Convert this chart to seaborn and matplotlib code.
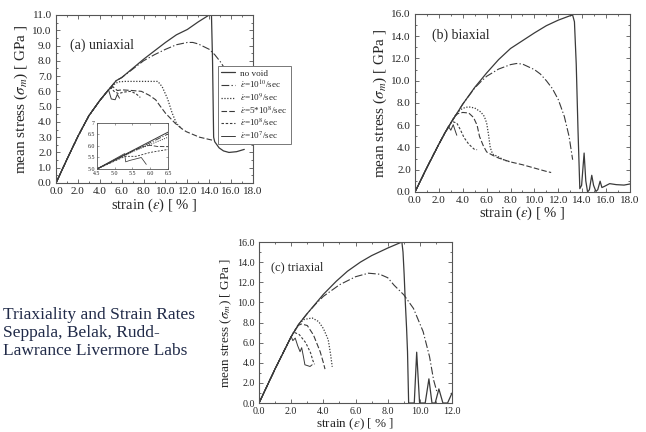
import numpy as np
import pandas as pd
import matplotlib
matplotlib.use("Agg")
import matplotlib.pyplot as plt
import seaborn as sns
from matplotlib.ticker import FormatStrFormatter, MultipleLocator, AutoMinorLocator

# ---- panel (a) uniaxial: shared loading branch, then each rate's own path
a_load_x = [0, 1, 2, 3, 4, 4.8]
a_load_y = [0, 1.55, 3.05, 4.4, 5.4, 6.1]
a_novoid_x = [5.5, 6, 7, 8, 9, 10, 11, 12, 12.4, 13, 14, 14.2, 14.3, 14.4, 14.5, 14.9, 15.3, 15.8, 16.5, 17.2]
a_novoid_y = [6.7, 6.9, 7.5, 8.1, 8.65, 9.2, 9.7, 10.05, 10.25, 10.55, 11.0, 11.05, 8.0, 3.0, 2.7, 2.3, 2.1, 2.0, 2.05, 2.2]
a_e10_x = [5.5, 6, 7, 8, 9, 10, 11, 12, 12.5, 13, 14, 14.5, 15, 15.5, 16]
a_e10_y = [6.7, 6.9, 7.45, 8.0, 8.4, 8.75, 9.05, 9.2, 9.2, 9.1, 8.75, 8.4, 7.95, 7.4, 6.7]
a_e9_x = [5.3, 5.7, 6.3, 9.3, 9.7, 10.2, 10.6, 11.0, 11.5]
a_e9_y = [6.45, 6.62, 6.65, 6.65, 6.3, 5.5, 4.6, 3.9, 3.55]
a_e5x8_x = [5.2, 5.6, 6, 7, 7.8, 8.5, 9.1, 9.5, 10, 10.5, 10.9, 11.5, 11.9, 13.1, 14.3]
a_e5x8_y = [6.3, 6.05, 6.1, 6.05, 6.0, 5.75, 5.45, 5.05, 4.57, 4.2, 3.9, 3.55, 3.36, 3.0, 2.8]
a_e8_x = [5.0, 5.3, 5.7, 6.2, 6.8, 7.3, 7.7]
a_e8_y = [6.25, 6.0, 5.85, 5.95, 6.0, 5.85, 5.6]
a_e7_x = [5.05, 5.4, 5.6, 5.8]
a_e7_y = [5.5, 5.45, 5.8, 5.55]

# inset of (a): zoomed view 4.5-6.5 %
in_novoid_x = [4.5, 6.5]
in_novoid_y = [5.0, 6.6]
in_e10_x = [4.5, 6.5]
in_e10_y = [5.0, 6.52]
in_e9_x = [4.5, 5.5, 6.5]
in_e9_y = [5.0, 5.75, 6.38]
in_e5x8_x = [4.5, 5.5, 5.8, 6.0, 6.2, 6.5]
in_e5x8_y = [5.0, 5.78, 5.98, 6.03, 5.98, 5.97]
in_e8_x = [4.5, 5.3, 5.6, 6.0, 6.5]
in_e8_y = [5.0, 5.55, 5.55, 5.72, 5.85]
in_e7_x = [4.5, 5.28, 5.31, 5.42, 5.75, 5.89]
in_e7_y = [5.0, 5.67, 5.31, 5.37, 5.5, 5.2]

# ---- panel (b) biaxial
b_load_x = [0, 0.5, 1, 1.5, 2, 2.5]
b_load_y = [0, 1.1, 2.2, 3.25, 4.3, 5.3]
b_novoid_x = [3, 3.5, 4, 5, 6, 7, 8, 9, 10, 11, 12, 13, 13.2, 13.35, 13.5, 13.65, 13.8, 13.95, 14.16, 14.3, 14.45,
              14.6, 14.8, 14.95, 15.15, 15.3, 15.5, 15.65, 15.85, 16.3, 16.85, 17.5, 18]
b_novoid_y = [6.2, 7.05, 7.9, 9.4, 10.7, 11.9, 12.9, 13.6, 14.3, 14.95, 15.45, 15.85, 15.9, 15.3, 11.5, 5.5, 0.3, 0.6, 3.5, 1.0, 0.0,
              0.2, 1.5, 0.6, 0.05, 0.2, 0.97, 0.4, 0.5, 0.75, 0.66, 0.62, 0.72]
b_e10_x = [3, 3.5, 4, 5, 5.5, 6, 7, 8, 8.5, 9, 10, 10.5, 11, 11.5, 12, 12.5, 12.9, 13.2]
b_e10_y = [6.2, 7.05, 7.9, 9.35, 9.9, 10.4, 11.05, 11.45, 11.55, 11.5, 11.0, 10.6, 10.0, 9.3, 8.3, 6.8, 5.0, 2.9]
b_e9_x = [3, 3.5, 3.8, 4.2, 4.5, 5.0, 5.5, 5.8, 6.0, 6.15, 6.3, 6.5, 7.0, 7.5, 8.0]
b_e9_y = [6.2, 7.05, 7.4, 7.6, 7.65, 7.55, 7.2, 6.8, 6.2, 5.2, 4.0, 3.4, 3.15, 2.85, 2.7]
b_e5x8_x = [3, 3.3, 3.6, 4.0, 4.5, 4.9, 5.2, 5.4, 5.7, 6.0, 6.5, 7, 8, 9, 10, 11, 11.4]
b_e5x8_y = [6.2, 6.8, 7.05, 7.15, 7.1, 6.7, 6.0, 5.0, 4.2, 3.6, 3.3, 3.05, 2.7, 2.45, 2.15, 1.85, 1.75]
b_e8_x = [3, 3.2, 3.5, 3.8, 4.1, 4.5, 4.95, 5.2]
b_e8_y = [6.2, 6.3, 6.2, 5.6, 4.9, 4.3, 3.85, 3.8]
b_e7_x = [2.8, 3.0, 3.2, 3.4, 3.5]
b_e7_y = [5.9, 5.55, 6.05, 5.4, 5.1]

# ---- panel (c) triaxial
c_load_x = [0, 0.5, 1, 1.5, 2]
c_load_y = [0, 1.7, 3.4, 5.0, 6.6]
c_novoid_x = [2.5, 3, 3.5, 4, 4.8, 5.5, 6.3, 7, 8, 8.88, 8.95, 9.02, 9.09, 9.17, 9.23, 9.3, 9.65, 9.8, 9.98,
              10.33, 10.56, 10.75, 10.95, 11.18, 11.43, 11.72, 12.0]
c_novoid_y = [7.9, 8.9, 9.85, 10.8, 12.1, 13.1, 14.0, 14.65, 15.4, 16.0, 15.0, 12.8, 10.1, 7.5, 5.1, 0.0, 0.0, 5.05, 0.0,
              0.0, 2.4, 0.0, 0.0, 1.4, 0.0, 0.0, 1.0]
c_e10_x = [2.5, 3, 3.5, 4, 5, 6, 6.8, 7.5, 8, 8.4, 9, 9.6, 10.2, 10.6, 10.85, 11.05]
c_e10_y = [7.9, 8.9, 9.8, 10.6, 11.75, 12.55, 12.9, 12.8, 12.45, 11.7, 10.75, 9.4, 7.1, 4.6, 2.3, 1.15]
c_e9_x = [2.5, 2.8, 3.3, 3.7, 4.0, 4.3, 4.45, 4.55]
c_e9_y = [7.9, 8.3, 8.45, 8.1, 7.4, 6.3, 4.8, 3.6]
c_e5x8_x = [2.4, 2.65, 3.0, 3.38, 3.8, 4.0, 4.1]
c_e5x8_y = [7.7, 7.85, 7.7, 6.77, 5.1, 4.0, 3.37]
c_e8_x = [2.15, 2.5, 2.9, 3.2, 3.35, 3.45]
c_e8_y = [7.05, 6.8, 6.0, 5.0, 4.2, 3.85]
c_e7_x = [2.1, 2.25, 2.4, 2.55, 2.65, 2.76, 2.85, 3.17, 3.3]
c_e7_y = [6.2, 6.45, 5.7, 5.1, 5.5, 4.6, 3.8, 3.63, 3.8]

labels = ["no void",
          r"$\dot{\varepsilon}$=10$^{10}$/sec",
          r"$\dot{\varepsilon}$=10$^{9}$/sec",
          r"$\dot{\varepsilon}$=5*10$^{8}$/sec",
          r"$\dot{\varepsilon}$=10$^{8}$/sec",
          r"$\dot{\varepsilon}$=10$^{7}$/sec"]
styles = ["-", (0, (7, 2, 1.2, 2)), (0, (1, 1.3)), (0, (5, 2)), (0, (2.2, 1.6)), "-"]
widths = [0.9, 0.8, 0.9, 0.8, 0.8, 0.7]
line_color = "#3a3a3a"

sns.set_style("ticks", {"xtick.direction": "in", "ytick.direction": "in"})
plt.rcParams["font.family"] = ["Liberation Serif", "DejaVu Serif"]
plt.rcParams["mathtext.fontset"] = "stix"
plt.rcParams["axes.edgecolor"] = "#555555"
plt.rcParams["axes.linewidth"] = 0.8

fig = plt.figure(figsize=(6.46, 4.32), dpi=100)


def draw(ax, load_x, load_y, branches, with_labels=False):
    for i, (bx, by) in enumerate(branches):
        xs = list(load_x) + list(bx)
        ys = list(load_y) + list(by)
        df = pd.DataFrame({"x": xs, "y": ys})
        sns.lineplot(data=df, x="x", y="y", ax=ax, sort=False, estimator=None,
                     color=line_color, linestyle=styles[i], linewidth=widths[i],
                     label=labels[i] if with_labels else None, legend=False)


def style_axes(ax, xmax, xstep, ymax, ystep, fs, xlabel_fs, ylabel_fs):
    ax.set_xlim(0, xmax)
    ax.set_ylim(0, ymax)
    ax.xaxis.set_major_locator(MultipleLocator(xstep))
    ax.yaxis.set_major_locator(MultipleLocator(ystep))
    ax.xaxis.set_minor_locator(AutoMinorLocator(2))
    ax.yaxis.set_minor_locator(AutoMinorLocator(2))
    ax.xaxis.set_major_formatter(FormatStrFormatter("%.1f"))
    ax.yaxis.set_major_formatter(FormatStrFormatter("%.1f"))
    ax.tick_params(which="both", direction="in", top=True, right=True, labelsize=fs,
                   color="#555555", width=0.6)
    ax.tick_params(axis="x", pad=3)
    ax.tick_params(axis="y", pad=3)
    ax.tick_params(which="major", length=3)
    ax.tick_params(which="minor", length=1.5)
    ax.set_xlabel(r"strain ($\varepsilon$) [ % ]", fontsize=xlabel_fs, labelpad=0)
    ax.set_ylabel(r"mean stress ($\sigma_m$) [ GPa ]", fontsize=ylabel_fs, labelpad=2)
    for s in ax.spines.values():
        s.set_visible(True)


# (a) uniaxial
ax_a = fig.add_axes([0.0867, 0.5764, 0.305, 0.389])
draw(ax_a, a_load_x, a_load_y,
     [(a_novoid_x, a_novoid_y), (a_e10_x, a_e10_y), (a_e9_x, a_e9_y),
      (a_e5x8_x, a_e5x8_y), (a_e8_x, a_e8_y), (a_e7_x, a_e7_y)], with_labels=True)
style_axes(ax_a, 18, 2, 11, 1, 8, 10.5, 11)
ax_a.text(0.07, 0.82, "(a) uniaxial", transform=ax_a.transAxes, fontsize=10, va="center")
leg = ax_a.legend(loc="upper left", bbox_to_anchor=(218 / 646, 1 - 66 / 432),
                  bbox_transform=fig.transFigure, fontsize=6.6, frameon=True,
                  fancybox=False, edgecolor="#777777", framealpha=1,
                  handlelength=1.5, handletextpad=0.6, labelspacing=0.12,
                  borderpad=0.35, borderaxespad=0)
leg.get_frame().set_linewidth(0.7)
leg.set_zorder(10)

# inset of (a)
ax_in = fig.add_axes([0.150, 0.6088, 0.110, 0.1065])
ax_in.set_facecolor("white")
inset_sets = [(in_novoid_x, in_novoid_y), (in_e10_x, in_e10_y), (in_e9_x, in_e9_y),
              (in_e5x8_x, in_e5x8_y), (in_e8_x, in_e8_y), (in_e7_x, in_e7_y)]
for i, (ix, iy) in enumerate(inset_sets):
    sns.lineplot(x=ix, y=iy, ax=ax_in, sort=False, estimator=None, color=line_color,
                 linestyle=styles[i], linewidth=widths[i] * 0.8)
ax_in.set_xlim(4.5, 6.5)
ax_in.set_ylim(5.0, 7.0)
ax_in.set_xticks([4.5, 5.0, 5.5, 6.0, 6.5])
ax_in.set_yticks([5.0, 5.5, 6.0, 6.5, 7.0])
ax_in.set_yticklabels(["5.0", "5.5", "6.0", "6.5", "7"])
ax_in.xaxis.set_major_formatter(FormatStrFormatter("%.1f"))
ax_in.tick_params(direction="in", top=True, right=True, labelsize=4.2, length=1.5, width=0.4, pad=1.5,
                  color="#555555")
for s in ax_in.spines.values():
    s.set_linewidth(0.6)

# (b) biaxial
ax_b = fig.add_axes([0.6424, 0.5556, 0.3328, 0.412])
draw(ax_b, b_load_x, b_load_y,
     [(b_novoid_x, b_novoid_y), (b_e10_x, b_e10_y), (b_e9_x, b_e9_y),
      (b_e5x8_x, b_e5x8_y), (b_e8_x, b_e8_y), (b_e7_x, b_e7_y)])
style_axes(ax_b, 18, 2, 16, 2, 8, 10.5, 11)
ax_b.text(0.08, 0.88, "(b) biaxial", transform=ax_b.transAxes, fontsize=10, va="center")

# (c) triaxial
ax_c = fig.add_axes([0.401, 0.0671, 0.2988, 0.3727])
draw(ax_c, c_load_x, c_load_y,
     [(c_novoid_x, c_novoid_y), (c_e10_x, c_e10_y), (c_e9_x, c_e9_y),
      (c_e5x8_x, c_e5x8_y), (c_e8_x, c_e8_y), (c_e7_x, c_e7_y)])
style_axes(ax_c, 12, 2, 16, 2, 7.2, 9.5, 9.5)
ax_c.text(0.06, 0.84, "(c) triaxial", transform=ax_c.transAxes, fontsize=9, va="center")

fig.text(0.005, 0.229, "Triaxiality and Strain Rates\nSeppala, Belak, Rudd-\nLawrance Livermore Labs",
         fontsize=12.5, color="#202a48", va="center", ha="left", linespacing=1.15)

fig.savefig("out.png", dpi=100)
